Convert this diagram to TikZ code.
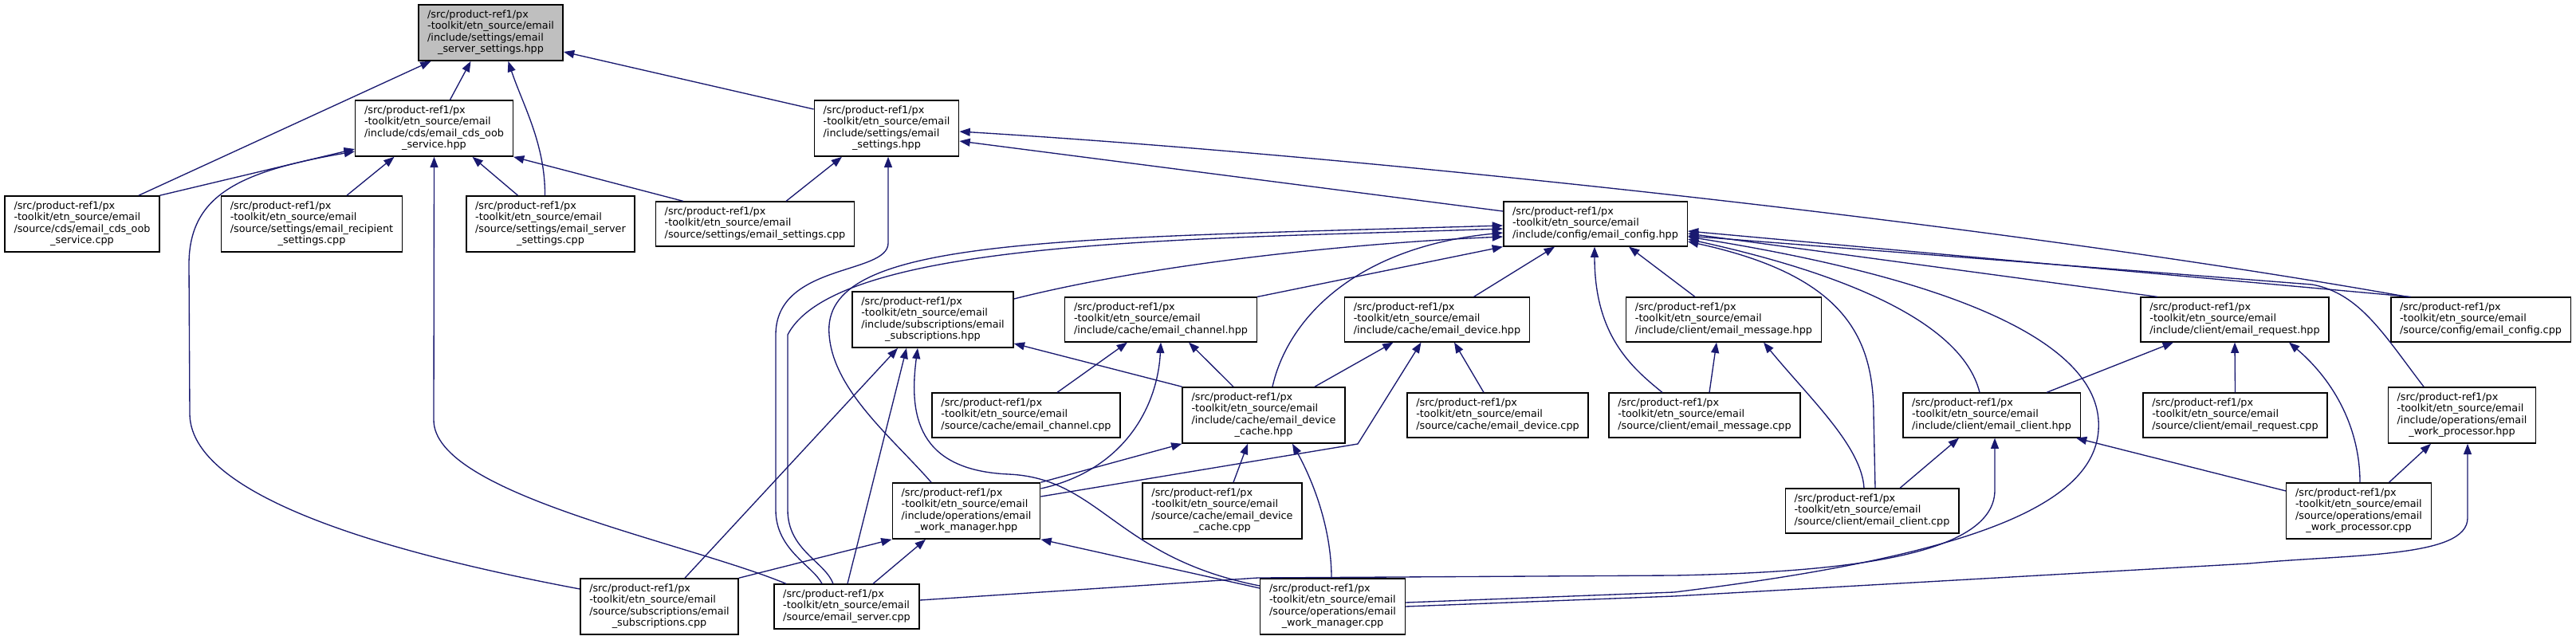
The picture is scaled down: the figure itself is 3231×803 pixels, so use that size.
\documentclass[tikz,border=0pt]{standalone}
\usepackage{fontspec}
\setmainfont{DejaVu Sans}
\usetikzlibrary{arrows.meta, calc}
\definecolor{edgeblue}{RGB}{25, 25, 112}
\definecolor{focusgray}{RGB}{191, 191, 191}
\newcommand{\flines}[1]{\begin{tabular}{@{}l@{}}#1\end{tabular}}
\newcommand{\lastln}[1]{\multicolumn{1}{@{}c@{}}{#1}}

\begin{document}
\begin{tikzpicture}[
  x=0.75pt, y=-0.75pt,
  file/.style={rectangle, draw=black, fill=white, line width=1.1pt,
               inner xsep=8.5pt, inner ysep=4.7pt,
               font=\fontsize{9.6}{10.8}\selectfont},
  focus/.style={file, fill=focusgray},
  incl/.style={{Triangle[length=10pt, width=7.5pt]}-, draw=edgeblue, line width=1pt}
]
  \fill[white] (0,0) rectangle (3231,803);

  % row 0
  \node[focus] (srvsethpp) at (615.5,41) {\flines{/src/product-ref1/px\\-toolkit/etn\_source/email\\/include/settings/email\\\lastln{\_server\_settings.hpp}}};
  % row 1
  \node[file] (oobhpp) at (544.5,161) {\flines{/src/product-ref1/px\\-toolkit/etn\_source/email\\/include/cds/email\_cds\_oob\\\lastln{\_service.hpp}}};
  \node[file] (sethpp) at (1112,161) {\flines{/src/product-ref1/px\\-toolkit/etn\_source/email\\/include/settings/email\\\lastln{\_settings.hpp}}};
  % row 2
  \node[file] (oobcpp) at (103,281) {\flines{/src/product-ref1/px\\-toolkit/etn\_source/email\\/source/cds/email\_cds\_oob\\\lastln{\_service.cpp}}};
  \node[file] (recipcpp) at (391,281) {\flines{/src/product-ref1/px\\-toolkit/etn\_source/email\\/source/settings/email\_recipient\\\lastln{\_settings.cpp}}};
  \node[file] (srvsetcpp) at (690.5,281) {\flines{/src/product-ref1/px\\-toolkit/etn\_source/email\\/source/settings/email\_server\\\lastln{\_settings.cpp}}};
  \node[file] (setcpp) at (947,281) {\flines{/src/product-ref1/px\\-toolkit/etn\_source/email\\/source/settings/email\_settings.cpp}};
  \node[file] (confighpp) at (2001,281) {\flines{/src/product-ref1/px\\-toolkit/etn\_source/email\\/include/config/email\_config.hpp}};
  % row 3
  \node[file] (subshpp) at (1170,401) {\flines{/src/product-ref1/px\\-toolkit/etn\_source/email\\/include/subscriptions/email\\\lastln{\_subscriptions.hpp}}};
  \node[file] (channelhpp) at (1456,401) {\flines{/src/product-ref1/px\\-toolkit/etn\_source/email\\/include/cache/email\_channel.hpp}};
  \node[file] (devicehpp) at (1802.5,401) {\flines{/src/product-ref1/px\\-toolkit/etn\_source/email\\/include/cache/email\_device.hpp}};
  \node[file] (messagehpp) at (2162,401) {\flines{/src/product-ref1/px\\-toolkit/etn\_source/email\\/include/client/email\_message.hpp}};
  \node[file] (requesthpp) at (2803,401) {\flines{/src/product-ref1/px\\-toolkit/etn\_source/email\\/include/client/email\_request.hpp}};
  \node[file] (configcpp) at (3111.5,401) {\flines{/src/product-ref1/px\\-toolkit/etn\_source/email\\/source/config/email\_config.cpp}};
  % row 4
  \node[file] (channelcpp) at (1287,521) {\flines{/src/product-ref1/px\\-toolkit/etn\_source/email\\/source/cache/email\_channel.cpp}};
  \node[file] (devcachehpp) at (1585,521) {\flines{/src/product-ref1/px\\-toolkit/etn\_source/email\\/include/cache/email\_device\\\lastln{\_cache.hpp}}};
  \node[file] (devicecpp) at (1878.5,521) {\flines{/src/product-ref1/px\\-toolkit/etn\_source/email\\/source/cache/email\_device.cpp}};
  \node[file] (messagecpp) at (2138,521) {\flines{/src/product-ref1/px\\-toolkit/etn\_source/email\\/source/client/email\_message.cpp}};
  \node[file] (clienthpp) at (2498,521) {\flines{/src/product-ref1/px\\-toolkit/etn\_source/email\\/include/client/email\_client.hpp}};
  \node[file] (requestcpp) at (2803.5,521) {\flines{/src/product-ref1/px\\-toolkit/etn\_source/email\\/source/client/email\_request.cpp}};
  \node[file] (processorhpp) at (3088,521) {\flines{/src/product-ref1/px\\-toolkit/etn\_source/email\\/include/operations/email\\\lastln{\_work\_processor.hpp}}};
  % row 5
  \node[file] (workmgrhpp) at (1212,641) {\flines{/src/product-ref1/px\\-toolkit/etn\_source/email\\/include/operations/email\\\lastln{\_work\_manager.hpp}}};
  \node[file] (devcachecpp) at (1533,641) {\flines{/src/product-ref1/px\\-toolkit/etn\_source/email\\/source/cache/email\_device\\\lastln{\_cache.cpp}}};
  \node[file] (clientcpp) at (2348,641) {\flines{/src/product-ref1/px\\-toolkit/etn\_source/email\\/source/client/email\_client.cpp}};
  \node[file] (processorcpp) at (2958.5,641) {\flines{/src/product-ref1/px\\-toolkit/etn\_source/email\\/source/operations/email\\\lastln{\_work\_processor.cpp}}};
  % row 6
  \node[file] (subscpp) at (827,761) {\flines{/src/product-ref1/px\\-toolkit/etn\_source/email\\/source/subscriptions/email\\\lastln{\_subscriptions.cpp}}};
  \node[file] (serverscpp) at (1062,761) {\flines{/src/product-ref1/px\\-toolkit/etn\_source/email\\/source/email\_server.cpp}};
  \node[file] (workmgrcpp) at (1671.5,761) {\flines{/src/product-ref1/px\\-toolkit/etn\_source/email\\/source/operations/email\\\lastln{\_work\_manager.cpp}}};

  % server settings header
  \draw[incl] ($(srvsethpp.south)+(-75,0)$) -- ($(oobcpp.north)+(71,0)$);
  \draw[incl] ($(srvsethpp.south)+(-25,0)$) -- ($(oobhpp.north)+(20,0)$);
  \draw[incl] ($(srvsethpp.south)+(22,0)$) .. controls (655,130) and (684,180) .. ($(srvsetcpp.north)+(-7,0)$);
  \draw[incl] ($(srvsethpp.east)+(0,24)$) -- ($(sethpp.west)+(0,-24)$);

  % cds oob service header
  \draw[incl] ($(oobhpp.west)+(0,26)$) -- (oobcpp.north east);
  \draw[incl] ($(oobhpp.west)+(0,29)$) .. controls (300,215) and (238,245) .. (237,330) -- (238,520) .. controls (240,630) and (520,700) .. ($(subscpp.west)+(0,-22)$);
  \draw[incl] ($(oobhpp.south)+(-50,0)$) -- ($(recipcpp.north)+(44,0)$);
  \draw[incl] (oobhpp.south) -- (544,527) .. controls (544,620) and (860,680) .. ($(serverscpp.north)+(-76,0)$);
  \draw[incl] ($(oobhpp.south)+(48,0)$) -- ($(srvsetcpp.north)+(-41,0)$);
  \draw[incl] (oobhpp.south east) -- ($(setcpp.north)+(-90,0)$);

  % settings header
  \draw[incl] ($(sethpp.south)+(-56,0)$) -- ($(setcpp.north)+(39,0)$);
  \draw[incl] ($(sethpp.east)+(0,4)$) .. controls (1700,195) and (2500,280) .. ($(configcpp.north)+(-92,0)$);
  \draw[incl] ($(sethpp.east)+(0,16)$) -- ($(confighpp.west)+(0,-16)$);
  \draw[incl] ($(sethpp.south)+(2,0)$) -- (1114,305) .. controls (1114,345) and (973,330) .. (973,420) -- (973,640) .. controls (973,690) and (1020,710) .. ($(serverscpp.north)+(-31,0)$);

  % config header
  \draw[incl] ($(confighpp.west)+(0,2)$) .. controls (1300,300) and (1030,300) .. (1040,420) .. controls (1045,490) and (1120,550) .. ($(workmgrhpp.north)+(-44,0)$);
  \draw[incl] ($(confighpp.west)+(0,6)$) .. controls (1500,300) and (1050,300) .. (988,420) -- (988,640) .. controls (988,690) and (1035,705) .. ($(serverscpp.north)+(-17,0)$);
  \draw[incl] ($(confighpp.west)+(0,11)$) .. controls (1700,310) and (1615,400) .. ($(devcachehpp.north)+(11,0)$);
  \draw[incl] ($(confighpp.west)+(0,16)$) .. controls (1700,305) and (1450,330) .. ($(subshpp.east)+(0,-26)$);
  \draw[incl] (confighpp.south west) -- (channelhpp.north east);
  \draw[incl] ($(confighpp.south)+(-51,0)$) -- ($(devicehpp.north)+(46,0)$);
  \draw[incl] ($(confighpp.south)+(-1,0)$) .. controls (2000,420) and (2045,460) .. ($(messagecpp.north)+(-53,0)$);
  \draw[incl] ($(confighpp.south)+(42,0)$) -- ($(messagehpp.north)+(-36,0)$);
  \draw[incl] ($(confighpp.east)+(0,9)$) -- ($(configcpp.north)+(-88,0)$);
  \draw[incl] ($(confighpp.east)+(0,12)$) -- ($(requesthpp.north)+(-97,0)$);
  \draw[incl] ($(confighpp.east)+(0,15)$) -- (2900,357) .. controls (2960,368) and (2990,420) .. ($(processorhpp.north)+(-48,0)$);
  \draw[incl] ($(confighpp.east)+(0,19)$) .. controls (2300,340) and (2460,400) .. ($(clienthpp.north)+(-15,0)$);
  \draw[incl] ($(confighpp.east)+(0,22)$) .. controls (2310,345) and (2350,420) .. (2350,520) -- ($(clientcpp.north)+(4,0)$);
  \draw[incl] ($(confighpp.east)+(0,16)$) .. controls (2450,350) and (2640,430) .. (2632,540) .. controls (2625,640) and (2450,700) .. (2100,743) -- ($(workmgrcpp.east)+(0,-5)$);

  % processor and client headers, long ones
  \draw[incl] ($(processorhpp.south)+(7,0)$) -- (3095,650) .. controls (3095,700) and (2950,695) .. (2821,707) -- (2100,748) -- (workmgrcpp.east);
  \draw[incl] ($(clienthpp.south)+(4,0)$) -- (2502,615) .. controls (2502,700) and (2300,718) .. (2100,722) -- (1578,725) -- ($(serverscpp.east)+(0,-8)$);

  % message header
  \draw[incl] ($(messagehpp.south)+(-9,0)$) -- ($(messagecpp.north)+(6,0)$);
  \draw[incl] ($(messagehpp.south)+(50,0)$) .. controls (2270,500) and (2335,560) .. ($(clientcpp.north)+(-10,0)$);

  % request header
  \draw[incl] ($(requesthpp.south)+(-77,0)$) -- ($(clienthpp.north)+(69,0)$);
  \draw[incl] (requesthpp.south) -- (requestcpp.north);
  \draw[incl] ($(requesthpp.south)+(68,0)$) .. controls (2930,480) and (2960,540) .. ($(processorcpp.north)+(1.5,0)$);

  % client header
  \draw[incl] ($(clienthpp.south)+(-41,0)$) -- ($(clientcpp.north)+(35,0)$);
  \draw[incl] ($(clienthpp.south east)+(-6,0)$) -- ($(processorcpp.west)+(0,-25)$);

  % processor header
  \draw[incl] ($(processorhpp.south)+(-39,0)$) -- ($(processorcpp.north)+(38,0)$);

  % channel and device headers
  \draw[incl] ($(channelhpp.south)+(-42,0)$) -- ($(channelcpp.north)+(39,0)$);
  \draw[incl] (channelhpp.south) .. controls (1452,510) and (1410,590) .. ($(workmgrhpp.east)+(0,-28)$);
  \draw[incl] ($(channelhpp.south)+(35,0)$) -- ($(devcachehpp.north)+(-38,0)$);
  \draw[incl] ($(devicehpp.south)+(-55,0)$) -- ($(devcachehpp.north)+(64,0)$);
  \draw[incl] ($(devicehpp.south)+(-20,0)$) -- (1703,557) -- ($(workmgrhpp.east)+(0,-18)$);
  \draw[incl] ($(devicehpp.south)+(21.5,0)$) -- ($(devicecpp.north)+(-17.5,0)$);

  % subscriptions header
  \draw[incl] ($(subshpp.east)+(0,30)$) -- (devcachehpp.north west);
  \draw[incl] ($(subshpp.south)+(-44,0)$) -- ($(subscpp.north)+(32,0)$);
  \draw[incl] ($(subshpp.south)+(-33,0)$) -- ($(serverscpp.north)+(1,0)$);
  \draw[incl] ($(subshpp.south)+(-19,0)$) .. controls (1140,520) and (1150,590) .. (1265,595) .. controls (1380,600) and (1400,700) .. ($(workmgrcpp.west)+(0,-26)$);

  % device cache header
  \draw[incl] (devcachehpp.south west) -- (workmgrhpp.north east);
  \draw[incl] ($(devcachehpp.south)+(-20,0)$) -- ($(devcachecpp.north)+(14,0)$);
  \draw[incl] ($(devcachehpp.south)+(36,0)$) .. controls (1645,600) and (1670,660) .. ($(workmgrcpp.north)+(-1.5,0)$);

  % work manager header
  \draw[incl] ($(workmgrhpp.south)+(-51,0)$) -- ($(serverscpp.north)+(33,0)$);
  \draw[incl] (workmgrhpp.south west) -- (subscpp.north east);
  \draw[incl] (workmgrhpp.south east) -- ($(workmgrcpp.west)+(0,-23)$);
\end{tikzpicture}
\end{document}
